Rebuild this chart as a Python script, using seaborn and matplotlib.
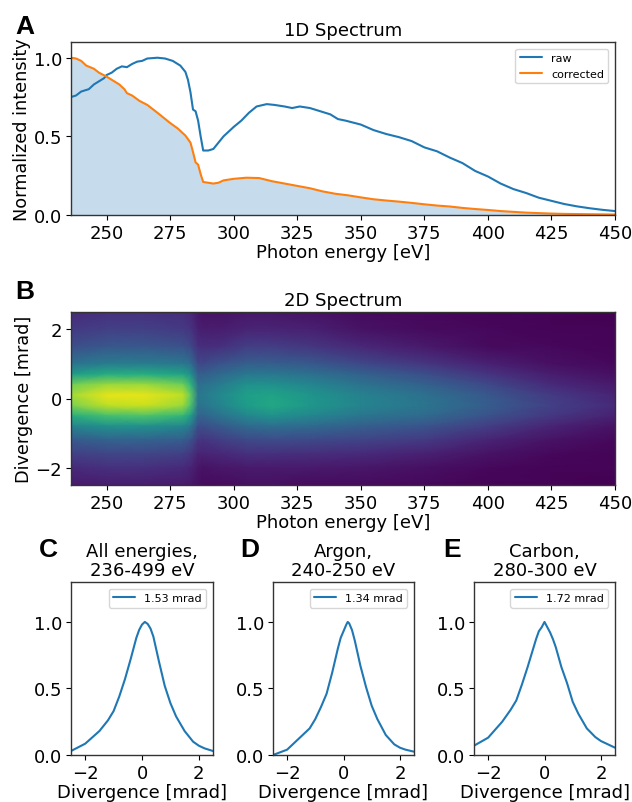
import numpy as np
import pandas as pd
import matplotlib
matplotlib.use('Agg')
import matplotlib.pyplot as plt
import seaborn as sns

# 1D spectrum
raw_e = [236, 238, 240, 243, 245, 247, 249, 250, 252, 254, 256, 258, 260, 262, 264, 266, 270, 273, 276, 279,
         281, 282, 283, 284, 285, 286, 287, 288, 290, 292, 294, 296, 300, 303, 306, 309, 313, 316, 320, 323,
         326, 330, 335, 338, 341, 344, 350, 355, 360, 365, 370, 375, 380, 385, 390, 395, 400, 405, 410, 415,
         420, 425, 430, 435, 440, 445, 450]
raw_i = [.75, .76, .785, .80, .83, .85, .87, .89, .905, .93, .945, .94, .96, .975, .98, .995, 1.0, .995, .98, .95,
         .91, .86, .78, .67, .66, .60, .50, .41, .41, .42, .46, .50, .56, .60, .65, .69, .705, .70, .69, .68,
         .69, .68, .655, .64, .61, .60, .575, .54, .515, .495, .47, .43, .405, .365, .33, .28, .245, .20, .165, .14,
         .11, .09, .07, .055, .043, .033, .025]
corr_e = [236, 238, 240, 242, 245, 247, 250, 253, 255, 257, 258, 260, 263, 266, 270, 275, 278, 281, 283, 284,
          285, 286, 287, 288, 290, 292, 294, 296, 300, 305, 310, 315, 320, 325, 330, 335, 340, 345, 350, 355,
          360, 365, 370, 375, 380, 385, 390, 395, 400, 405, 410, 415, 420, 425, 430, 440, 450]
corr_i = [1.0, .995, .98, .95, .93, .905, .88, .85, .83, .80, .775, .76, .725, .70, .65, .585, .55, .505, .46, .40,
          .335, .32, .26, .21, .205, .20, .205, .22, .23, .237, .235, .215, .20, .185, .17, .15, .135, .125, .112, .10,
          .092, .085, .077, .068, .06, .054, .045, .038, .032, .025, .02, .015, .012, .009, .007, .005, .003]

# 2D spectrum, coarse grid estimated from the colours
map_e = [236, 250, 265, 280, 283, 286, 288, 295, 305, 315, 330, 350, 375, 400, 425, 450]
map_div = [2.5, 2, 1.5, 1, .7, .4, .1, -.2, -.5, -.8, -1.2, -1.6, -2, -2.5]
map_vals = [
    [.12, .17, .24, .38, .55, .78, .86, .80, .62, .45, .28, .19, .12, .07],
    [.14, .19, .27, .42, .62, .85, .96, .90, .70, .50, .31, .21, .14, .08],
    [.14, .19, .27, .42, .62, .85, .96, .92, .72, .50, .31, .21, .14, .08],
    [.13, .17, .25, .40, .58, .78, .90, .85, .66, .46, .29, .19, .12, .07],
    [.11, .15, .22, .36, .50, .66, .76, .72, .56, .40, .25, .16, .10, .06],
    [.06, .09, .14, .22, .30, .36, .40, .38, .32, .24, .16, .10, .06, .04],
    [.05, .08, .13, .22, .30, .37, .41, .39, .32, .24, .15, .10, .05, .03],
    [.05, .08, .14, .26, .34, .42, .47, .45, .38, .28, .18, .11, .06, .03],
    [.06, .10, .18, .30, .40, .50, .56, .55, .46, .34, .22, .14, .07, .04],
    [.06, .10, .18, .30, .40, .50, .58, .60, .50, .36, .23, .14, .07, .04],
    [.05, .09, .16, .28, .37, .46, .52, .53, .46, .34, .22, .13, .07, .03],
    [.03, .05, .11, .22, .31, .38, .44, .45, .39, .30, .20, .12, .06, .03],
    [.02, .03, .07, .16, .24, .31, .37, .39, .34, .26, .17, .09, .04, .02],
    [.01, .02, .03, .09, .15, .22, .27, .29, .25, .18, .10, .05, .02, .01],
    [.01, .01, .02, .04, .08, .12, .17, .19, .16, .10, .05, .02, .01, .01],
    [.00, .01, .01, .02, .04, .07, .10, .12, .09, .05, .02, .01, .01, .00],
]

# divergence profiles
c_x = [-2.5, -2, -1.5, -1.2, -1, -.8, -.6, -.4, -.2, -.1, 0, .1, .2, .3, .4, .6, .8, 1, 1.2, 1.5, 1.8, 2, 2.2, 2.5]
c_y = [.03, .085, .18, .26, .33, .44, .57, .72, .88, .94, .98, 1.0, .985, .95, .89, .70, .52, .39, .29, .18, .10, .07, .05, .03]
d_x = [-2.5, -2, -1.5, -1.2, -1, -.8, -.6, -.4, -.2, -.1, 0, .1, .15, .2, .3, .4, .6, .8, 1, 1.2, 1.5, 1.8, 2, 2.2, 2.5]
d_y = [.0, .04, .14, .20, .27, .36, .46, .62, .80, .88, .93, .98, 1.0, .99, .94, .86, .67, .51, .37, .27, .15, .08, .055, .04, .025]
e_x = [-2.5, -2, -1.5, -1.2, -1, -.8, -.6, -.4, -.3, -.2, -.1, 0, .1, .2, .3, .4, .6, .8, 1, 1.2, 1.5, 1.8, 2, 2.2, 2.5]
e_y = [.07, .13, .25, .34, .41, .53, .66, .80, .87, .93, .96, 1.0, .96, .92, .87, .81, .66, .54, .40, .31, .20, .135, .105, .085, .055]

profiles = [
    (c_x, c_y, 'All energies,\n236-499 eV', '1.53 mrad', 'C'),
    (d_x, d_y, 'Argon,\n240-250 eV', '1.34 mrad', 'D'),
    (e_x, e_y, 'Carbon,\n280-300 eV', '1.72 mrad', 'E'),
]

sns.set_style('ticks')
sns.set_palette('tab10')
plt.rcParams['font.family'] = ['DejaVu Sans']
plt.rcParams['text.color'] = 'black'
plt.rcParams['axes.labelcolor'] = 'black'
plt.rcParams['xtick.color'] = 'black'
plt.rcParams['ytick.color'] = 'black'
plt.rcParams['axes.edgecolor'] = '#333333'
plt.rcParams['axes.linewidth'] = 1.0

W, H = 632, 803
fig = plt.figure(figsize=(W / 100, H / 100), dpi=100)


def add_ax(x0, x1, y0, y1):
    return fig.add_axes([x0 / W, 1 - y1 / H, (x1 - x0) / W, (y1 - y0) / H])


def letter(x, y, s):
    fig.text(x / W, 1 - y / H, s, fontsize=19, fontweight='bold', family='Liberation Sans',
             color='black', ha='left', va='baseline')


# panel A
ax = add_ax(71, 615, 43, 216)
df_raw = pd.DataFrame({'energy': raw_e, 'intensity': raw_i})
df_corr = pd.DataFrame({'energy': corr_e, 'intensity': corr_i})
sns.lineplot(data=df_raw, x='energy', y='intensity', ax=ax, color='C0', lw=1.5, label='raw')
sns.lineplot(data=df_corr, x='energy', y='intensity', ax=ax, color='C1', lw=1.5, label='corrected')
ax.fill_between(corr_e, corr_i, color='C0', alpha=0.25, lw=0)
ax.set_xlim(236, 450)
ax.set_ylim(0, 1.1)
ax.set_xticks(range(250, 451, 25))
ax.set_yticks([0, 0.5, 1.0])
ax.tick_params(labelsize=13, length=3.5, width=0.8, pad=3)
ax.set_xlabel('Photon energy [eV]', fontsize=13, labelpad=1)
ax.set_ylabel('Normalized intensity', fontsize=12.7, labelpad=2)
ax.set_title('1D Spectrum', fontsize=13, pad=5)
ax.legend(loc='upper right', fontsize=8, frameon=True, borderaxespad=0.6)
letter(15, 34, 'A')

# panel B
ax = add_ax(71, 615, 313, 486)
ax.pcolormesh(map_e, map_div, np.array(map_vals).T, shading='gouraud',
              cmap=sns.color_palette('viridis', as_cmap=True), vmin=0, vmax=1, rasterized=True)
ax.set_xlim(236, 450)
ax.set_ylim(-2.5, 2.5)
ax.set_xticks(range(250, 451, 25))
ax.set_yticks([-2, 0, 2])
ax.tick_params(labelsize=13, length=3.5, width=0.8, pad=3)
ax.set_xlabel('Photon energy [eV]', fontsize=13, labelpad=1)
ax.set_ylabel('Divergence [mrad]', fontsize=12.7, labelpad=2)
ax.set_title('2D Spectrum', fontsize=13, pad=5)
letter(15, 299, 'B')

# panels C, D, E
for (x0, x1, lx), (px, py, title, lab, let) in zip([(71, 213, 39), (273, 414, 240), (474, 615, 443)], profiles):
    ax = add_ax(x0, x1, 583, 756)
    sns.lineplot(x=px, y=py, ax=ax, color='C0', lw=1.5, label=lab)
    ax.set_xlim(-2.5, 2.5)
    ax.set_ylim(0, 1.3)
    ax.set_xticks([-2, 0, 2])
    ax.set_yticks([0, 0.5, 1.0])
    ax.tick_params(labelsize=13, length=3.5, width=0.8, pad=3)
    ax.set_xlabel('Divergence [mrad]', fontsize=13, labelpad=1)
    ax.set_title(title, fontsize=13, pad=5, linespacing=1.05)
    ax.legend(loc='upper right', fontsize=8, frameon=True, borderaxespad=0.6)
    letter(lx, 557, let)

fig.savefig('out.png', dpi=100)
